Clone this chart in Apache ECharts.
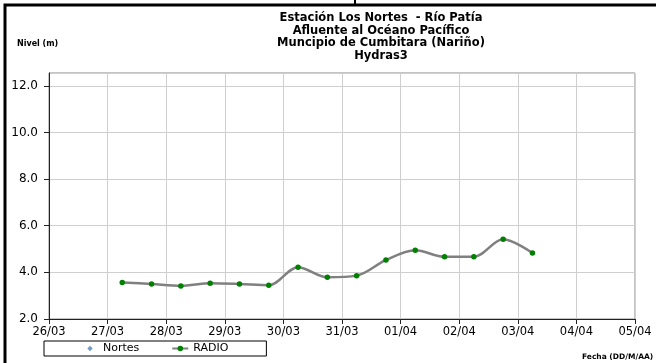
<!DOCTYPE html>
<html>
<head>
<meta charset="utf-8">
<script src="https://cdn.jsdelivr.net/npm/echarts@6/dist/echarts.min.js"></script>
<style>
  html, body { margin: 0; padding: 0; background: #fff; }
  #main { width: 656px; height: 363px; }
</style>
</head>
<body>
<div id="main"></div>
<script>
// etiquetas del eje X (un dia por marca)
var dias = ['26/03', '27/03', '28/03', '29/03', '30/03', '31/03', '01/04', '02/04', '03/04', '04/04', '05/04'];
// fecha y hora de cada lectura
var fechas = ['27/03 06:00', '27/03 18:00', '28/03 06:00', '28/03 18:00', '29/03 06:00', '29/03 18:00',
              '30/03 06:00', '30/03 18:00', '31/03 06:00', '31/03 18:00', '01/04 06:00', '01/04 18:00',
              '02/04 06:00', '02/04 18:00', '03/04 06:00'];
// nivel RADIO (m)
var radio = [3.57, 3.50, 3.42, 3.53, 3.50, 3.45, 4.22, 3.79, 3.86, 4.53, 4.95, 4.67, 4.67, 5.42, 4.83];
// serie Nortes sin datos
var nortes = [];

var fuente = 'DejaVu Sans';

// dias transcurridos desde el 26/03
function offsetDia(txt) {
    var p = txt.split(' ');
    var dm = p[0].split('/');
    var hm = p[1].split(':');
    var t = Date.UTC(2011, parseInt(dm[1], 10) - 1, parseInt(dm[0], 10), parseInt(hm[0], 10), parseInt(hm[1], 10));
    return (t - Date.UTC(2011, 2, 26)) / 864e5;
}

var puntos = [];
for (var i = 0; i < radio.length; i++) {
    puntos.push([offsetDia(fechas[i]), radio[i]]);
}

var myChart = echarts.init(document.getElementById('main'));
var option = {
    backgroundColor: '#fff',
    animation: false,
    title: [{
        text: 'Estación Los Nortes  - Río Patía\nAfluente al Océano Pacífico\nMuncipio de Cumbitara (Nariño)\nHydras3',
        left: 376,
        top: 7,
        textAlign: 'center',
        textStyle: { fontFamily: fuente, fontSize: 11.5, fontWeight: 'bold', color: '#000', lineHeight: 12.6 }
    }, {
        text: 'Nivel (m)',
        left: 12,
        top: 35,
        textStyle: { fontFamily: fuente, fontSize: 8, fontWeight: 'bold', color: '#000' }
    }, {
        text: 'Fecha (DD/M/AA)',
        left: 577,
        top: 348,
        textStyle: { fontFamily: fuente, fontSize: 7.5, fontWeight: 'bold', color: '#000' }
    }],
    legend: {
        left: 44,
        top: 341,
        padding: [2, 38, 2, 38],
        itemGap: 32,
        itemWidth: 16,
        itemHeight: 7,
        borderColor: '#000',
        borderWidth: 1,
        borderRadius: 0,
        textStyle: { fontFamily: fuente, fontSize: 11, color: '#000' },
        data: [
            { name: 'Nortes', icon: 'path://M0,0 M16,7 M8,0.8 L10.7,3.5 L8,6.2 L5.3,3.5 Z' },
            'RADIO'
        ]
    },
    grid: {
        left: 49,
        right: 21,
        top: 73,
        bottom: 44,
        show: true,
        borderColor: '#888',
        borderWidth: 1
    },
    xAxis: {
        type: 'value',
        min: 0,
        max: dias.length - 1,
        interval: 1,
        axisLine: { show: true, lineStyle: { color: '#222', width: 1 } },
        axisTick: { show: true, length: 5, lineStyle: { color: '#222' } },
        axisLabel: {
            margin: 7,
            fontFamily: fuente,
            fontSize: 11.5,
            color: '#000',
            formatter: function (v) { return dias[Math.round(v)] || ''; }
        },
        splitLine: { show: true, lineStyle: { color: '#cfcfcf', width: 1 } }
    },
    yAxis: {
        type: 'value',
        min: 2,
        max: 12.55,
        interval: 2,
        axisLine: { show: true, lineStyle: { color: '#222', width: 1 } },
        axisTick: { show: true, length: 5, lineStyle: { color: '#222' } },
        axisLabel: {
            margin: 11,
            fontFamily: fuente,
            fontSize: 12,
            color: '#000',
            showMaxLabel: false,
            formatter: function (v) { return (Math.abs(v % 2) < 1e-6) ? v.toFixed(1) : ''; }
        },
        splitLine: { show: true, lineStyle: { color: '#cfcfcf', width: 1 } }
    },
    series: [{
        name: 'Nortes',
        type: 'scatter',
        symbol: 'diamond',
        symbolSize: 6,
        itemStyle: { color: '#4f81bd' },
        data: nortes
    }, {
        name: 'RADIO',
        type: 'line',
        smooth: 0.33,
        symbol: 'circle',
        symbolSize: 5.5,
        showSymbol: true,
        lineStyle: { color: '#808080', width: 2.5 },
        itemStyle: { color: '#008000', borderWidth: 0 },
        data: puntos
    }],
    graphic: [{
        type: 'rect',
        silent: true,
        shape: { x: 5, y: 5, width: 700, height: 400 },
        style: { fill: null, stroke: '#000', lineWidth: 3 }
    }, {
        type: 'line',
        silent: true,
        shape: { x1: 355, y1: 0, x2: 355, y2: 5 },
        style: { stroke: '#000', lineWidth: 2 }
    }]
};
myChart.setOption(option);
</script>
</body>
</html>
